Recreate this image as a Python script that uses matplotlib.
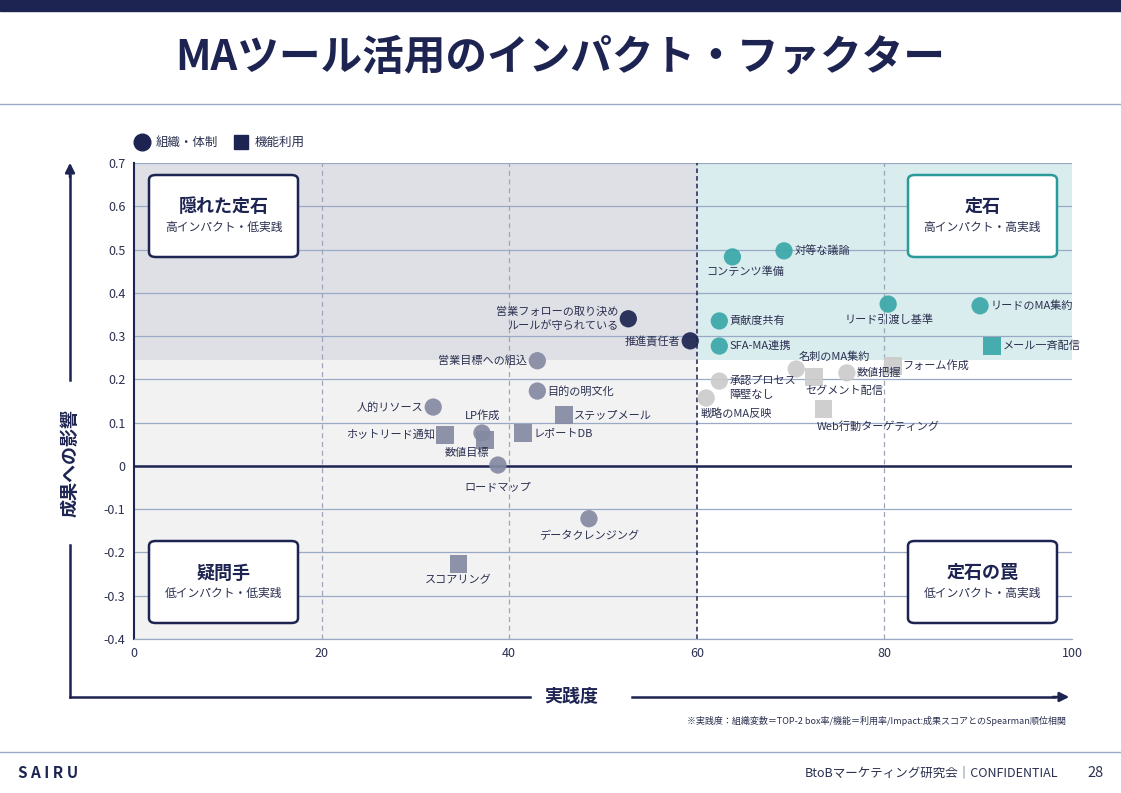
import matplotlib
matplotlib.use("Agg")
import matplotlib.pyplot as plt
from matplotlib.patches import Rectangle, FancyBboxPatch
from matplotlib.lines import Line2D

plt.rcParams['font.family'] = ['Noto Sans CJK JP', 'DejaVu Sans']

# ---- データ ----
names = ['営業フォローの取り決め\nルールが守られている', '推進責任者', '営業目標への組込', '目的の明文化',
         '人的リソース', '数値目標', 'ロードマップ', 'データクレンジング',
         'LP作成', 'ホットリード通知', 'レポートDB', 'ステップメール', 'スコアリング',
         '対等な議論', 'コンテンツ準備', 'リード引渡し基準', 'リードのMA集約', '貢献度共有', 'SFA-MA連携',
         'メール一斉配信',
         '名刺のMA集約', '数値把握', '承認プロセス\n障壁なし', '戦略のMA反映',
         'フォーム作成', 'セグメント配信', 'Web行動ターゲティング']
practice = [52.7, 59.3, 43.0, 43.0, 31.9, 37.1, 38.8, 48.5,
            37.4, 33.2, 41.5, 45.8, 34.6,
            69.3, 63.8, 80.4, 90.2, 62.4, 62.4,
            91.5,
            70.6, 76.0, 62.4, 61.0,
            80.9, 72.5, 73.5]
impact = [0.340, 0.289, 0.243, 0.173, 0.136, 0.076, 0.002, -0.122,
          0.060, 0.072, 0.076, 0.118, -0.226,
          0.497, 0.483, 0.374, 0.370, 0.335, 0.277,
          0.277,
          0.224, 0.215, 0.196, 0.157,
          0.231, 0.206, 0.132]
kind = ['org'] * 8 + ['func'] * 5 + ['org'] * 6 + ['func'] + ['org'] * 4 + ['func'] * 3

x_ticks = [0, 20, 40, 60, 80, 100]
y_ticks = [0.7, 0.6, 0.5, 0.4, 0.3, 0.2, 0.1, 0, -0.1, -0.2, -0.3, -0.4]
y_tick_labels = ['0.7', '0.6', '0.5', '0.4', '0.3', '0.2', '0.1', '0', '-0.1', '-0.2', '-0.3', '-0.4']

x_split = 60
y_split = 0.245

quadrants = [
    ('隠れた定石', '高インパクト・低実践', 'tl'),
    ('定石', '高インパクト・高実践', 'tr'),
    ('疑問手', '低インパクト・低実践', 'bl'),
    ('定石の罠', '低インパクト・高実践', 'br'),
]

# ラベル位置 (pixel offset, ha)
label_pos = {
    '営業フォローの取り決め\nルールが守られている': (-10, 0, 'right'),
    '推進責任者': (-10, 0, 'right'),
    '営業目標への組込': (-10, 0, 'right'),
    '目的の明文化': (10, 0, 'left'),
    '人的リソース': (-10, 0, 'right'),
    '数値目標': (-15, -20, 'center'),
    'ロードマップ': (0, -22, 'center'),
    'データクレンジング': (0, -17, 'center'),
    'LP作成': (-2, 24, 'center'),
    'ホットリード通知': (-10, 0, 'right'),
    'レポートDB': (10, 0, 'left'),
    'ステップメール': (10, 0, 'left'),
    'スコアリング': (0, -16, 'center'),
    '対等な議論': (11, 0, 'left'),
    'コンテンツ準備': (13, -15, 'center'),
    'リード引渡し基準': (1, -15, 'center'),
    'リードのMA集約': (10, 0, 'left'),
    '貢献度共有': (10, 0, 'left'),
    'SFA-MA連携': (10, 0, 'left'),
    'メール一斉配信': (10, 0, 'left'),
    '名刺のMA集約': (2, 12, 'left'),
    '数値把握': (10, 0, 'left'),
    '承認プロセス\n障壁なし': (10, -7, 'left'),
    '戦略のMA反映': (-6, -16, 'left'),
    'フォーム作成': (10, 0, 'left'),
    'セグメント配信': (-9, -14, 'left'),
    'Web行動ターゲティング': (-7, -18, 'left'),
}

# ---- スタイル ----
NAVY = '#1d2451'
TEAL = '#3aa7a8'
GRAYP = '#858aa3'
LGRAY = '#cbcbcb'
GRID = '#9aa9c5'
TXT = '#2b3050'

W, H = 1121, 793
fig = plt.figure(figsize=(W / 100, H / 100), dpi=100)
fig.patch.set_facecolor('white')


def fy(y):
    return 1 - y / H


def fx(x):
    return x / W


# 上部バー・タイトル
fig.add_artist(Rectangle((0, fy(11)), 1, 11 / H, transform=fig.transFigure, color=NAVY))
fig.text(0.5, fy(58), 'MAツール活用のインパクト・ファクター', ha='center', va='center',
         fontsize=30, fontweight='bold', color=NAVY)
fig.add_artist(Line2D([0, 1], [fy(104), fy(104)], transform=fig.transFigure, color=GRID, lw=1))

# メイン軸
ax = fig.add_axes([fx(134), fy(639), (1072 - 134) / W, (639 - 163) / H])
ax.set_xlim(0, 100)
ax.set_ylim(-0.4, 0.7)
ax.set_facecolor('white')

# 象限背景
ax.add_patch(Rectangle((0, y_split), x_split, 0.7 - y_split, color='#dfe0e6', zorder=0, lw=0))
ax.add_patch(Rectangle((x_split, y_split), 100 - x_split, 0.7 - y_split, color='#d9edee', zorder=0, lw=0))
ax.add_patch(Rectangle((0, -0.4), x_split, y_split + 0.4, color='#f2f2f2', zorder=0, lw=0))

for yv in y_ticks:
    if yv == 0:
        continue
    ax.axhline(yv, color=GRID, lw=0.9, zorder=1)
for xv in [20, 40, 80]:
    ax.axvline(xv, color='#9ea5ba', lw=0.9, ls=(0, (4, 3)), zorder=1)
ax.axvline(x_split, color=NAVY, lw=1.1, ls=(0, (3, 2)), zorder=2)
ax.axhline(0, color=NAVY, lw=1.8, zorder=2)

ax.set_xticks(x_ticks)
ax.set_yticks(y_ticks)
ax.set_yticklabels(y_tick_labels)
ax.tick_params(length=0, labelsize=9, colors=TXT, pad=6)
for s in ['top', 'right']:
    ax.spines[s].set_visible(False)
ax.spines['left'].set_color(NAVY)
ax.spines['left'].set_linewidth(1.5)
ax.spines['bottom'].set_color(GRID)
ax.spines['bottom'].set_linewidth(0.9)


def point_color(xv, yv):
    if yv >= y_split:
        return NAVY if xv < x_split else TEAL
    return GRAYP if xv < x_split else LGRAY


for n, xv, yv, k in zip(names, practice, impact, kind):
    c = point_color(xv, yv)
    ax.scatter(xv, yv, s=155 if k == 'org' else 165, marker='o' if k == 'org' else 's',
               color=c, alpha=0.92, edgecolors='none', zorder=4)
    dx, dy, ha = label_pos[n]
    ax.annotate(n, (xv, yv), xytext=(dx, dy), textcoords='offset pixels',
                ha=ha, va='center', fontsize=8, color=TXT, multialignment=ha if ha != 'center' else 'center',
                linespacing=1.45, zorder=5)

# 象限ボックス
box_px = {'tl': (149, 175), 'tr': (908, 175), 'bl': (149, 541), 'br': (908, 541)}
for title, sub, pos in quadrants:
    x0, y0 = box_px[pos]
    bw, bh = 149, 82
    edge = '#2a9a9b' if pos == 'tr' else NAVY
    fig.add_artist(FancyBboxPatch((fx(x0), fy(y0 + bh)), bw / W, bh / H,
                                  boxstyle='round,pad=0,rounding_size=0.006',
                                  transform=fig.transFigure, facecolor='white', edgecolor=edge,
                                  lw=1.8, zorder=6))
    fig.text(fx(x0 + bw / 2), fy(y0 + 32), title, ha='center', va='center', fontsize=13,
             fontweight='bold', color=NAVY, zorder=7)
    fig.text(fx(x0 + bw / 2), fy(y0 + 53), sub, ha='center', va='center', fontsize=8.5,
             color=TXT, zorder=7)

# 凡例
fig.add_artist(Line2D([fx(142)], [fy(142)], marker='o', markersize=12, color=NAVY, transform=fig.transFigure))
fig.text(fx(156), fy(142), '組織・体制', ha='left', va='center', fontsize=9, color=TXT)
fig.add_artist(Line2D([fx(241)], [fy(142)], marker='s', markersize=10.5, color=NAVY, transform=fig.transFigure))
fig.text(fx(255), fy(142), '機能利用', ha='left', va='center', fontsize=9, color=TXT)

# 軸矢印
fig.add_artist(Line2D([fx(70), fx(70)], [fy(697), fy(545)], transform=fig.transFigure, color=NAVY, lw=1.8))
fig.add_artist(Line2D([fx(70), fx(70)], [fy(380), fy(175)], transform=fig.transFigure, color=NAVY, lw=1.8))
ax.annotate('', xy=(fx(70), fy(160)), xytext=(fx(70), fy(180)), xycoords='figure fraction',
            arrowprops=dict(arrowstyle='-|>', color=NAVY, lw=1.8, mutation_scale=14))
fig.text(fx(70), fy(463), '成果への影響', rotation=90, ha='center', va='center', fontsize=13,
         fontweight='bold', color=NAVY)

fig.add_artist(Line2D([fx(70), fx(530)], [fy(697), fy(697)], transform=fig.transFigure, color=NAVY, lw=1.8))
fig.add_artist(Line2D([fx(632), fx(1055)], [fy(697), fy(697)], transform=fig.transFigure, color=NAVY, lw=1.8))
ax.annotate('', xy=(fx(1072), fy(697)), xytext=(fx(1050), fy(697)), xycoords='figure fraction',
            arrowprops=dict(arrowstyle='-|>', color=NAVY, lw=1.8, mutation_scale=14))
fig.text(fx(571), fy(697), '実践度', ha='center', va='center', fontsize=13, fontweight='bold', color=NAVY)

fig.text(fx(1066), fy(721), '※実践度：組織変数＝TOP-2 box率/機能＝利用率/Impact:成果スコアとのSpearman順位相関',
         ha='right', va='center', fontsize=6.5, color=TXT)

# フッター
fig.add_artist(Line2D([0, 1], [fy(752), fy(752)], transform=fig.transFigure, color=GRID, lw=1))
fig.text(fx(18), fy(773), 'S A I R U', ha='left', va='center', fontsize=11, fontweight='bold', color=NAVY)
fig.text(fx(1058), fy(773), 'BtoBマーケティング研究会｜CONFIDENTIAL', ha='right', va='center',
         fontsize=9, color=TXT)
fig.text(fx(1104), fy(773), '28', ha='right', va='center', fontsize=10.5, color=TXT)

fig.savefig('out.png', dpi=100)
